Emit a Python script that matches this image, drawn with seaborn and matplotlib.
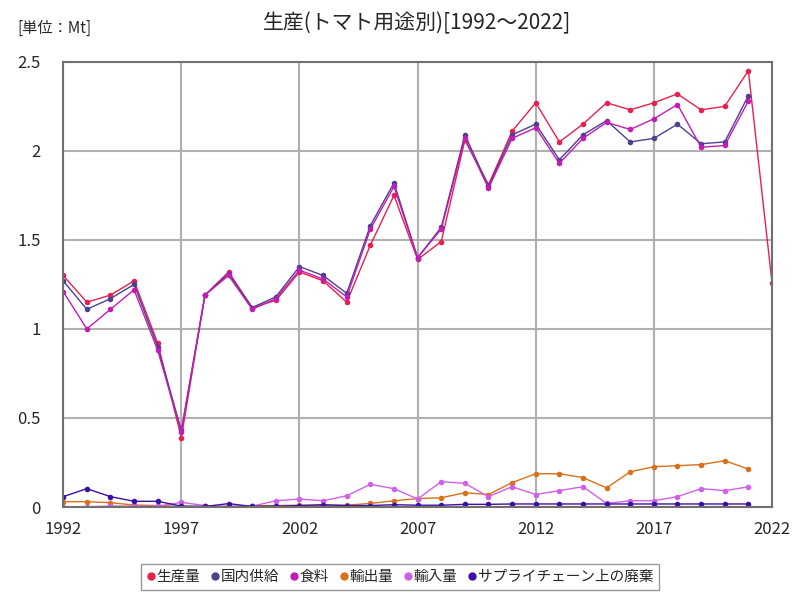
import numpy as np
import pandas as pd
import matplotlib
matplotlib.use('Agg')
import matplotlib.pyplot as plt
import seaborn as sns
from matplotlib.ticker import FuncFormatter

# データ（単位：Mt）
years = list(range(1992, 2023))
nan = np.nan

production = [1.30, 1.15, 1.19, 1.27, 0.92, 0.39, 1.19, 1.32, 1.12, 1.16,
              1.32, 1.27, 1.15, 1.47, 1.75, 1.39, 1.49, 2.06, 1.81, 2.11,
              2.27, 2.05, 2.15, 2.27, 2.23, 2.27, 2.32, 2.23, 2.25, 2.45, 1.26]
domestic = [1.27, 1.11, 1.17, 1.25, 0.90, 0.43, 1.19, 1.31, 1.12, 1.18,
            1.35, 1.30, 1.20, 1.58, 1.82, 1.40, 1.57, 2.09, 1.80, 2.09,
            2.15, 1.95, 2.09, 2.17, 2.05, 2.07, 2.15, 2.04, 2.05, 2.31, nan]
food = [1.21, 1.00, 1.11, 1.22, 0.88, 0.42, 1.19, 1.30, 1.11, 1.17,
        1.33, 1.28, 1.18, 1.56, 1.80, 1.40, 1.56, 2.07, 1.79, 2.07,
        2.13, 1.93, 2.07, 2.16, 2.12, 2.18, 2.26, 2.02, 2.03, 2.28, nan]
export = [0.030, 0.030, 0.024, 0.011, 0.008, 0.003, 0.003, 0.003, 0.008, 0.008,
          0.010, 0.008, 0.010, 0.020, 0.035, 0.047, 0.052, 0.080, 0.070, 0.137,
          0.187, 0.187, 0.165, 0.107, 0.198, 0.226, 0.232, 0.238, 0.260, 0.213, nan]
imports = [0.001, 0.001, 0.005, 0.005, 0.005, 0.026, 0.008, 0.003, 0.005, 0.035,
           0.045, 0.035, 0.063, 0.127, 0.103, 0.045, 0.142, 0.133, 0.058, 0.114,
           0.070, 0.092, 0.114, 0.020, 0.035, 0.035, 0.058, 0.103, 0.092, 0.113, nan]
waste = [0.058, 0.103, 0.058, 0.032, 0.032, 0.005, 0.003, 0.019, 0.003, 0.005,
         0.008, 0.013, 0.008, 0.008, 0.013, 0.010, 0.010, 0.015, 0.015, 0.017,
         0.017, 0.017, 0.017, 0.017, 0.017, 0.017, 0.017, 0.017, 0.017, 0.017, nan]

labels = ['生産量', '国内供給', '食料', '輸出量', '輸入量', 'サプライチェーン上の廃棄']
colors = ['#e8204f', '#4f3f8f', '#c21cb8', '#d8701c', '#d060e8', '#3c10a8']

df = pd.DataFrame({'年': years, labels[0]: production, labels[1]: domestic,
                   labels[2]: food, labels[3]: export, labels[4]: imports,
                   labels[5]: waste})
long_df = df.melt(id_vars='年', var_name='系列', value_name='値').dropna()

sns.set_style('white')
plt.rcParams['font.family'] = ['Noto Sans CJK JP', 'DejaVu Sans']

fig = plt.figure(figsize=(8, 6), dpi=100)
ax = fig.add_axes([0.079, 0.155, 0.886, 0.742])

sns.lineplot(data=long_df, x='年', y='値', hue='系列', hue_order=labels,
             palette=dict(zip(labels, colors)), marker='o', markersize=4,
             markeredgewidth=0, linewidth=1, ax=ax, legend=False)

ax.set_xlim(1992, 2022)
ax.set_ylim(0, 2.5)
ax.set_xticks(range(1992, 2023, 5))
ax.set_yticks([0, 0.5, 1, 1.5, 2, 2.5])
ax.yaxis.set_major_formatter(FuncFormatter(lambda v, p: f'{v:g}'))
ax.tick_params(labelsize=12, length=0)
ax.tick_params(axis='x', pad=10)
ax.tick_params(axis='y', pad=16)
ax.grid(True, color='#b0b0b0', linewidth=1.5)
for s in ax.spines.values():
    s.set_color('#707070')
    s.set_linewidth(1.5)
ax.set_xlabel('')
ax.set_ylabel('')

fig.text(0.521, 0.962, '生産(トマト用途別)[1992～2022]', ha='center', va='center', fontsize=15)
fig.text(0.022, 0.953, '[単位：Mt]', ha='left', va='center', fontsize=11)

handles = [plt.Line2D([], [], marker='o', linestyle='', color=c, markersize=5) for c in colors]
fig.legend(handles, labels, loc='lower center', bbox_to_anchor=(0.5, 0.012), ncol=6,
           frameon=True, fancybox=False, edgecolor='#808080', fontsize=10.5,
           handlelength=0.6, handletextpad=0.1, columnspacing=0.7, borderpad=0.4,
           borderaxespad=0.2)

fig.savefig('out.png', dpi=100)
